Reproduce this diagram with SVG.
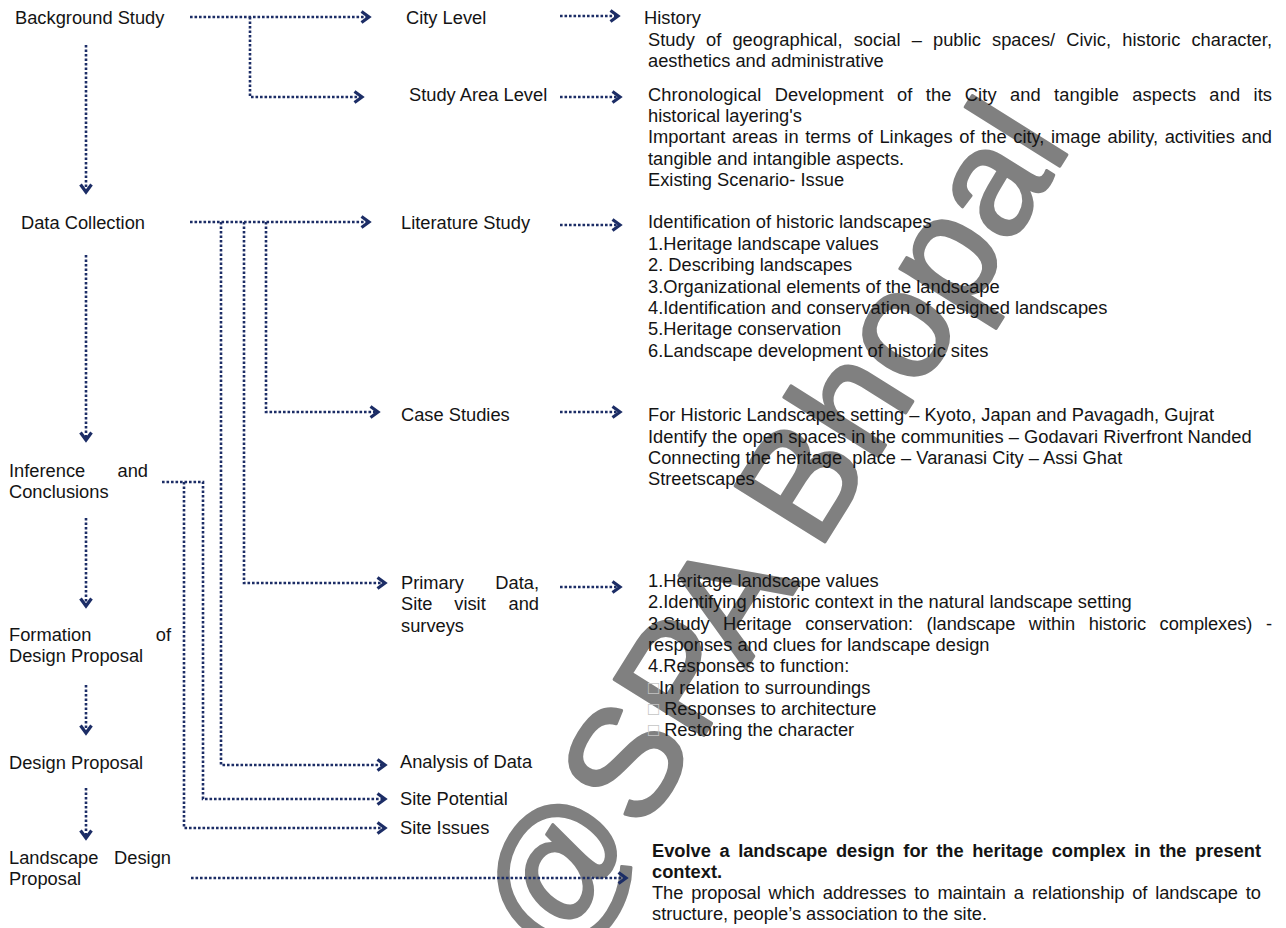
<svg xmlns="http://www.w3.org/2000/svg" width="1286" height="928" viewBox="0 0 1286 928">
<style>
  text { font-family: "Liberation Sans", Arial, sans-serif; font-size: 18.3px; fill: #141414; }
  .b { font-weight: bold; }
  .wm { font-size: 154px; fill: #808080; stroke: #808080; stroke-width: 3; stroke-linejoin: round; }
  .c { fill: none; stroke: #1c2d66; stroke-width: 2.6; stroke-dasharray: 2.6 1.9; marker-end: url(#arr); }
  .tofu { fill: #c4c4c4; }
</style>
<defs>
  <marker id="arr" markerUnits="userSpaceOnUse" markerWidth="14" markerHeight="14" viewBox="0 0 14 14" refX="10.5" refY="7" orient="auto">
    <path d="M3,1.5 L10.5,7 L3,12.5" fill="none" stroke="#1c2d66" stroke-width="3.2" stroke-dasharray="none"/>
  </marker>
</defs>
<rect width="1286" height="928" fill="#ffffff"/>

<g id="watermark">
  <text class="wm" transform="translate(560,966) rotate(-58)">@SPA Bhopal</text>
</g>

<g id="connectors">
  <path class="c" d="M190,17 H369"/>
  <path class="c" d="M250,17 V97 H362"/>
  <path class="c" d="M86,45 V192"/>
  <path class="c" d="M560,16 H618"/>
  <path class="c" d="M560,97 H620"/>
  <path class="c" d="M190,222 H369"/>
  <path class="c" d="M266,222 V412 H378"/>
  <path class="c" d="M244,222 V583 H385"/>
  <path class="c" d="M221,222 V765 H385"/>
  <path class="c" d="M86,255 V440"/>
  <path class="c" d="M560,225 H620"/>
  <path class="c" d="M560,412 H620"/>
  <path class="c" d="M560,587 H620"/>
  <path class="c" d="M162,482 H203 V799 H385"/>
  <path class="c" d="M184,482 V828 H385"/>
  <path class="c" d="M86,518 V606"/>
  <path class="c" d="M86,685 V733"/>
  <path class="c" d="M86,788 V838"/>
  <path class="c" d="M191,878 H626"/>
</g>

<g id="n-background"><text x="15" y="24">Background Study</text></g>
<g id="n-data-collection"><text x="21" y="229">Data Collection</text></g>
<g id="n-inference">
  <text x="9" y="477">Inference</text><text x="148" y="477" text-anchor="end">and</text>
  <text x="9" y="498">Conclusions</text>
</g>
<g id="n-formation">
  <text x="9" y="641">Formation</text><text x="171" y="641" text-anchor="end">of</text>
  <text x="9" y="662">Design Proposal</text>
</g>
<g id="n-design-proposal"><text x="9" y="769">Design Proposal</text></g>
<g id="n-landscape-proposal">
  <text x="9" y="864">Landscape</text><text x="171" y="864" text-anchor="end">Design</text>
  <text x="9" y="885">Proposal</text>
</g>

<g id="n-city-level"><text x="406" y="24">City Level</text></g>
<g id="n-study-area"><text x="409" y="101">Study Area Level</text></g>
<g id="n-literature"><text x="401" y="229">Literature Study</text></g>
<g id="n-case-studies"><text x="401" y="421">Case Studies</text></g>
<g id="n-primary-data">
  <text x="401" y="589">Primary</text><text x="539" y="589" text-anchor="end">Data,</text>
  <text x="401" y="610">Site</text><text x="470" y="610" text-anchor="middle">visit</text><text x="539" y="610" text-anchor="end">and</text>
  <text x="401" y="632">surveys</text>
</g>
<g id="n-analysis"><text x="400" y="768">Analysis of Data</text></g>
<g id="n-site-potential"><text x="400" y="805">Site Potential</text></g>
<g id="n-site-issues"><text x="400" y="834">Site Issues</text></g>

<g id="d-city">
  <text x="644" y="24">History</text>
  <text x="648" y="46" word-spacing="6" textLength="624" lengthAdjust="spacing">Study of geographical, social – public spaces/ Civic, historic character,</text>
  <text x="648" y="67">aesthetics and administrative</text>
</g>
<g id="d-study-area">
  <text x="648" y="101" word-spacing="8" textLength="624" lengthAdjust="spacing">Chronological Development of the City and tangible aspects and its</text>
  <text x="648" y="122">historical layering's</text>
  <text x="648" y="143" word-spacing="1.5" textLength="624" lengthAdjust="spacing">Important areas in terms of Linkages of the city, image ability, activities and</text>
  <text x="648" y="165">tangible and intangible aspects.</text>
  <text x="648" y="186">Existing Scenario- Issue</text>
</g>
<g id="d-literature">
  <text x="648" y="228">Identification of historic landscapes</text>
  <text x="648" y="250">1.Heritage landscape values</text>
  <text x="648" y="271">2. Describing landscapes</text>
  <text x="648" y="293">3.Organizational elements of the landscape</text>
  <text x="648" y="314">4.Identification and conservation of designed landscapes</text>
  <text x="648" y="335">5.Heritage conservation</text>
  <text x="648" y="357">6.Landscape development of historic sites</text>
</g>
<g id="d-case">
  <text x="648" y="421">For Historic Landscapes setting – Kyoto, Japan and Pavagadh, Gujrat</text>
  <text x="648" y="443">Identify the open spaces in the communities – Godavari Riverfront Nanded</text>
  <text x="648" y="464" style="white-space:pre">Connecting the heritage  place – Varanasi City – Assi Ghat</text>
  <text x="648" y="485">Streetscapes</text>
</g>
<g id="d-primary">
  <text x="648" y="587">1.Heritage landscape values</text>
  <text x="648" y="608">2.Identifying historic context in the natural landscape setting</text>
  <text x="648" y="630" word-spacing="8.5" textLength="624" lengthAdjust="spacing">3.Study Heritage conservation: (landscape within historic complexes) -</text>
  <text x="648" y="651">responses and clues for landscape design</text>
  <text x="648" y="672">4.Responses to function:</text>
  <text x="648" y="694"><tspan class="tofu">□</tspan>In relation to surroundings</text>
  <text x="648" y="715" style="white-space:pre"><tspan class="tofu">□</tspan> Responses to architecture</text>
  <text x="648" y="736" style="white-space:pre"><tspan class="tofu">□</tspan> Restoring the character</text>
</g>
<g id="d-evolve">
  <text class="b" x="652" y="857" word-spacing="3.5" textLength="609" lengthAdjust="spacing">Evolve a landscape design for the heritage complex in the present</text>
  <text class="b" x="652" y="878">context.</text>
  <text x="652" y="899" word-spacing="3" textLength="609" lengthAdjust="spacing">The proposal which addresses to maintain a relationship of landscape to</text>
  <text x="652" y="920">structure, people’s association to the site.</text>
</g>
</svg>
